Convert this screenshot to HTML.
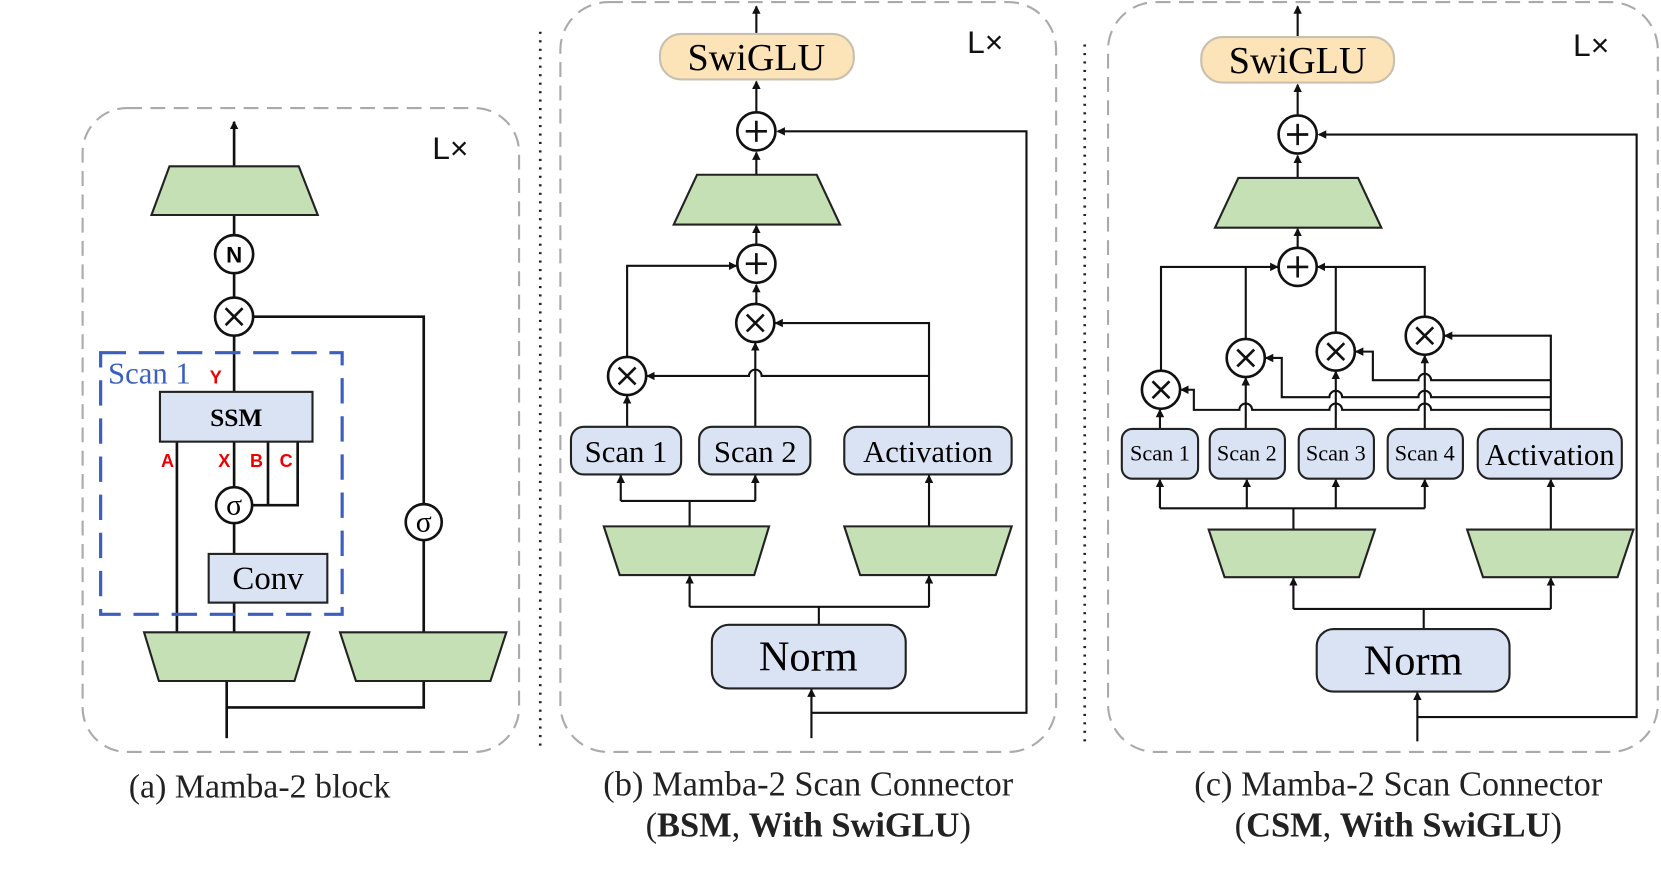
<!DOCTYPE html>
<html><head><meta charset="utf-8"><style>
html,body{margin:0;padding:0;background:#fff}
svg{display:block}
.se{font-family:"Liberation Serif",serif}
.sa{font-family:"Liberation Sans",sans-serif}
</style></head><body>
<svg width="1661" height="896" viewBox="0 0 1568 846" preserveAspectRatio="none" xmlns="http://www.w3.org/2000/svg" class="se">
<defs>
<marker id="ar" markerWidth="8" markerHeight="8" refX="7" refY="4" orient="auto" markerUnits="userSpaceOnUse">
<path d="M0,0 L8,4 L0,8 z" fill="#111"/></marker>
</defs>
<g fill="none" stroke="#aaa" stroke-width="2" stroke-dasharray="14,8">
<rect x="78" y="102" width="412" height="608" rx="42"/>
<rect x="529" y="2" width="468" height="708" rx="45"/>
<rect x="1046" y="2" width="519" height="708" rx="45"/>
</g>
<g stroke="#222" stroke-width="2.5" stroke-dasharray="2,6">
<line x1="510" y1="30" x2="510" y2="705"/>
<line x1="1024" y1="42" x2="1024" y2="705"/>
</g>
<g class="sa" font-size="30" fill="#111">
<text x="408" y="150" class="sa">L×</text>
<text x="913" y="50" class="sa">L×</text>
<text x="1485" y="53" class="sa">L×</text>
</g>

<!-- Panel a -->
<g stroke="#111" stroke-width="2.5" fill="none">
<line x1="221" y1="157" x2="221" y2="115" marker-end="url(#ar)"/>
<line x1="221" y1="203" x2="221" y2="222"/>
<line x1="221" y1="258" x2="221" y2="281"/>
<polyline points="239,299 400,299 400,476"/>
<line x1="400" y1="510" x2="400" y2="597"/>
<line x1="221" y1="317" x2="221" y2="370"/>
<line x1="167" y1="417" x2="167" y2="597"/>
<line x1="221" y1="417" x2="221" y2="460"/>
<polyline points="253,417 253,477 238,477"/>
<polyline points="281,417 281,477 253,477"/>
<line x1="221" y1="494" x2="221" y2="523"/>
<line x1="221" y1="569" x2="221" y2="597"/>
<line x1="214" y1="643" x2="214" y2="697"/>
<polyline points="214,668 400,668 400,643"/>
</g>
<g stroke="#222" stroke-width="2" fill="#c5e0b4">
<polygon points="160,157 282,157 300,203 143,203"/>
<polygon points="136,597 292,597 278,643 150,643"/>
<polygon points="321,597 478,597 463,643 336,643"/>
</g>
<g stroke="#111" stroke-width="2.5" fill="#fff">
<circle cx="221" cy="240" r="18"/><circle cx="221" cy="299" r="18"/>
<circle cx="400" cy="493" r="17"/><circle cx="221" cy="477" r="17"/>
</g>
<text x="221" y="248" class="sa" font-weight="bold" font-size="21" text-anchor="middle">N</text>
<g stroke="#111" stroke-width="2.5"><path d="M213,291 L229,307 M229,291 L213,307"/></g>
<text x="400" y="502" font-size="28" text-anchor="middle">σ</text>
<text x="221" y="486" font-size="28" text-anchor="middle">σ</text>
<rect x="95" y="333" width="228" height="247" fill="none" stroke="#3a5fc0" stroke-width="3" stroke-dasharray="24,12"/>
<text x="102" y="362" font-size="29" fill="#3a5fc0">Scan 1</text>
<g class="sa" font-weight="bold" font-size="17" fill="#e00">
<text x="198" y="362">Y</text><text x="152" y="441">A</text><text x="206" y="441">X</text><text x="236" y="441">B</text><text x="264" y="441">C</text>
</g>
<rect x="151" y="370" width="144" height="47" fill="#dae3f3" stroke="#222" stroke-width="2"/>
<text x="223" y="402" font-size="24" font-weight="bold" text-anchor="middle">SSM</text>
<rect x="197" y="523" width="112" height="46" fill="#dae3f3" stroke="#222" stroke-width="2"/>
<text x="253" y="556" font-size="31" text-anchor="middle">Conv</text>
<text x="245" y="753" font-size="32" text-anchor="middle" fill="#222">(a) Mamba-2 block</text>

<!-- Panel b -->
<g stroke="#111" stroke-width="2" fill="none">
<line x1="714" y1="32" x2="714" y2="6" marker-end="url(#ar)"/>
<line x1="714" y1="106" x2="714" y2="77" marker-end="url(#ar)"/>
<polyline points="766,673 969,673 969,124 734,124" marker-end="url(#ar)"/>
<line x1="766" y1="697" x2="766" y2="651" marker-end="url(#ar)"/>
<line x1="714" y1="165" x2="714" y2="144" marker-end="url(#ar)"/>
<line x1="714" y1="231" x2="714" y2="213" marker-end="url(#ar)"/>
<line x1="714" y1="287" x2="714" y2="269" marker-end="url(#ar)"/>
<polyline points="592,337 592,251 695,251" marker-end="url(#ar)"/>
<polyline points="877,403 877,305 732,305" marker-end="url(#ar)"/>
<path d="M877,355 L719,355 A6,6 0 0 0 707,355 L611,355" marker-end="url(#ar)"/>
<line x1="713" y1="403" x2="713" y2="324" marker-end="url(#ar)"/>
<line x1="592" y1="403" x2="592" y2="374" marker-end="url(#ar)"/>
<polyline points="586,473 713,473"/>
<line x1="586" y1="473" x2="586" y2="449" marker-end="url(#ar)"/>
<line x1="713" y1="473" x2="713" y2="449" marker-end="url(#ar)"/>
<line x1="651" y1="473" x2="651" y2="497"/>
<line x1="877" y1="497" x2="877" y2="449" marker-end="url(#ar)"/>
<polyline points="651,573 877,573"/>
<line x1="651" y1="573" x2="651" y2="544" marker-end="url(#ar)"/>
<line x1="877" y1="573" x2="877" y2="544" marker-end="url(#ar)"/>
<line x1="773" y1="573" x2="773" y2="590"/>
</g>
<rect x="623" y="32" width="183" height="43" rx="20" fill="#fde4b8" stroke="#c9bfae" stroke-width="2"/>
<text x="714" y="66" font-size="36" text-anchor="middle">SwiGLU</text>
<g stroke="#222" stroke-width="2" fill="#c5e0b4">
<polygon points="658,165 771,165 793,212 636,212"/>
<polygon points="570,497 726,497 712,543 585,543"/>
<polygon points="797,497 955,497 940,543 812,543"/>
</g>
<g stroke="#111" stroke-width="2.5" fill="#fff">
<circle cx="714" cy="124" r="18"/><circle cx="714" cy="249" r="18"/>
<circle cx="713" cy="305" r="18"/><circle cx="592" cy="355" r="18"/>
</g>
<g stroke="#111" stroke-width="2.5">
<path d="M714,114 V134 M704,124 H724 M714,239 V259 M704,249 H724"/>
<path d="M705,297 L721,313 M721,297 L705,313 M584,347 L600,363 M600,347 L584,363"/>
</g>
<g fill="#dae3f3" stroke="#222" stroke-width="2">
<rect x="539" y="403" width="104" height="45" rx="12"/>
<rect x="660" y="403" width="105" height="45" rx="12"/>
<rect x="797" y="403" width="158" height="45" rx="12"/>
<rect x="672" y="590" width="183" height="60" rx="16"/>
</g>
<g font-size="29" text-anchor="middle">
<text x="591" y="436">Scan 1</text><text x="713" y="436">Scan 2</text><text x="876" y="436">Activation</text>
</g>
<text x="763" y="633" font-size="40" text-anchor="middle">Norm</text>
<text x="763" y="751" font-size="32.5" text-anchor="middle" fill="#222">(b) Mamba-2 Scan Connector</text>
<text x="763" y="790" font-size="32.5" text-anchor="middle" fill="#222">(<tspan font-weight="bold">BSM</tspan>, <tspan font-weight="bold">With SwiGLU</tspan>)</text>

<!-- Panel c -->
<g stroke="#111" stroke-width="2" fill="none">
<line x1="1225" y1="35" x2="1225" y2="6" marker-end="url(#ar)"/>
<line x1="1225" y1="108" x2="1225" y2="80" marker-end="url(#ar)"/>
<polyline points="1338,677 1545,677 1545,127 1245,127" marker-end="url(#ar)"/>
<line x1="1338" y1="700" x2="1338" y2="654" marker-end="url(#ar)"/>
<line x1="1225" y1="168" x2="1225" y2="147" marker-end="url(#ar)"/>
<line x1="1225" y1="233" x2="1225" y2="216" marker-end="url(#ar)"/>
<polyline points="1096,350 1096,252 1206,252" marker-end="url(#ar)"/>
<polyline points="1345,299 1345,252 1244,252" marker-end="url(#ar)"/>
<polyline points="1176,320 1176,252"/>
<polyline points="1261,314 1261,252"/>
<polyline points="1464,405 1464,317 1364,317" marker-end="url(#ar)"/>
<path d="M1464,359 L1351,359 A6,6 0 0 0 1339,359 L1296,359 L1296,332 L1280,332" marker-end="url(#ar)"/>
<path d="M1464,375 L1351,375 A6,6 0 0 0 1339,375 L1267,375 A6,6 0 0 0 1255,375 L1210,375 L1210,338 L1195,338" marker-end="url(#ar)"/>
<path d="M1464,387 L1351,387 A6,6 0 0 0 1339,387 L1267,387 A6,6 0 0 0 1255,387 L1182,387 A6,6 0 0 0 1170,387 L1127,387 L1127,368 L1115,368" marker-end="url(#ar)"/>
<line x1="1095" y1="405" x2="1095" y2="387" marker-end="url(#ar)"/>
<line x1="1176" y1="405" x2="1176" y2="357" marker-end="url(#ar)"/>
<line x1="1261" y1="405" x2="1261" y2="351" marker-end="url(#ar)"/>
<line x1="1345" y1="405" x2="1345" y2="336" marker-end="url(#ar)"/>
<polyline points="1095,480 1345,480"/>
<line x1="1095" y1="480" x2="1095" y2="453" marker-end="url(#ar)"/>
<line x1="1177" y1="480" x2="1177" y2="453" marker-end="url(#ar)"/>
<line x1="1261" y1="480" x2="1261" y2="453" marker-end="url(#ar)"/>
<line x1="1345" y1="480" x2="1345" y2="453" marker-end="url(#ar)"/>
<line x1="1221" y1="480" x2="1221" y2="500"/>
<line x1="1464" y1="500" x2="1464" y2="453" marker-end="url(#ar)"/>
<polyline points="1221,575 1464,575"/>
<line x1="1221" y1="575" x2="1221" y2="546" marker-end="url(#ar)"/>
<line x1="1464" y1="575" x2="1464" y2="546" marker-end="url(#ar)"/>
<line x1="1344" y1="575" x2="1344" y2="594"/>
</g>
<rect x="1134" y="35" width="182" height="43" rx="20" fill="#fde4b8" stroke="#c9bfae" stroke-width="2"/>
<text x="1225" y="69" font-size="36" text-anchor="middle">SwiGLU</text>
<g stroke="#222" stroke-width="2" fill="#c5e0b4">
<polygon points="1169,168 1282,168 1304,215 1147,215"/>
<polygon points="1141,500 1298,500 1283,545 1156,545"/>
<polygon points="1385,500 1542,500 1527,545 1400,545"/>
</g>
<g stroke="#111" stroke-width="2.5" fill="#fff">
<circle cx="1225" cy="127" r="18"/><circle cx="1225" cy="252" r="18"/>
<circle cx="1096" cy="368" r="18"/><circle cx="1176" cy="338" r="18"/>
<circle cx="1261" cy="332" r="18"/><circle cx="1345" cy="317" r="18"/>
</g>
<g stroke="#111" stroke-width="2.5">
<path d="M1225,117 V137 M1215,127 H1235 M1225,242 V262 M1215,252 H1235"/>
<path d="M1088,360 L1104,376 M1104,360 L1088,376 M1168,330 L1184,346 M1184,330 L1168,346"/>
<path d="M1253,324 L1269,340 M1269,324 L1253,340 M1337,309 L1353,325 M1353,309 L1337,325"/>
</g>
<g fill="#dae3f3" stroke="#222" stroke-width="2">
<rect x="1059" y="405" width="72" height="47" rx="10"/>
<rect x="1142" y="405" width="71" height="47" rx="10"/>
<rect x="1226" y="405" width="71" height="47" rx="10"/>
<rect x="1310" y="405" width="71" height="47" rx="10"/>
<rect x="1395" y="405" width="136" height="47" rx="12"/>
<rect x="1243" y="594" width="182" height="59" rx="16"/>
</g>
<g font-size="21" text-anchor="middle">
<text x="1095" y="435">Scan 1</text><text x="1177" y="435">Scan 2</text><text x="1261" y="435">Scan 3</text><text x="1345" y="435">Scan 4</text>
</g>
<text x="1463" y="439" font-size="29" text-anchor="middle">Activation</text>
<text x="1334" y="637" font-size="40" text-anchor="middle">Norm</text>
<text x="1320" y="751" font-size="32.5" text-anchor="middle" fill="#222">(c) Mamba-2 Scan Connector</text>
<text x="1320" y="790" font-size="32.5" text-anchor="middle" fill="#222">(<tspan font-weight="bold">CSM</tspan>, <tspan font-weight="bold">With SwiGLU</tspan>)</text>
</svg>
</body></html>
